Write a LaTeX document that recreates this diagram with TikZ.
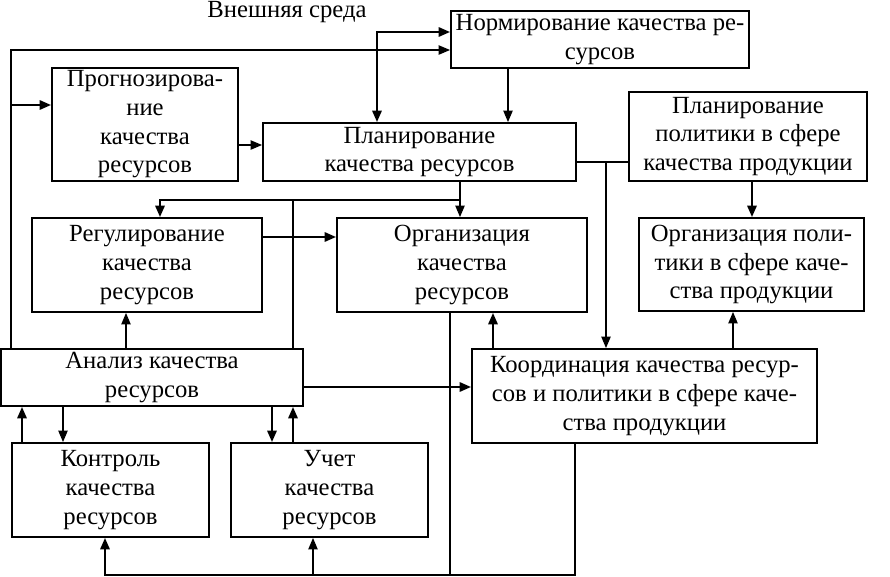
\documentclass[tikz,border=0pt]{standalone}
\usepackage{fontspec}
\setmainfont{Liberation Serif}
\usetikzlibrary{arrows.meta}
\begin{document}
\begin{tikzpicture}[x=0.75pt,y=-0.75pt,
  txt/.style={font=\fontsize{18.5}{21.5}\selectfont},
  box/.style={txt, draw, line width=1.5pt, inner sep=0pt, align=center},
  thinl/.style={line width=0.8pt},
  thickl/.style={line width=1.5pt},
  arr/.style={-{Triangle[length=8.5pt,width=7pt]}},
  arrb/.style={{Triangle[length=8.5pt,width=7pt]}-{Triangle[length=8.5pt,width=7pt]}}]
\useasboundingbox (0,0) rectangle (890,576);
% nodes
\node[txt, anchor=north, inner sep=0pt] (env) at (287,1) {Внешняя среда};
\node[box, minimum width=223.5pt, minimum height=42.75pt] (norm) at (600,39.5) {Нормирование качества ре-\\сурсов};
\node[box, minimum width=139.5pt, minimum height=84.75pt] (prog) at (145,124.5) {Прогнозирова-\\ние\\качества\\ресурсов};
\node[box, minimum width=234.75pt, minimum height=43.5pt] (plan) at (419.5,152) {Планирование\\качества ресурсов};
\node[box, minimum width=178.5pt, minimum height=66.75pt] (planpol) at (748,136.5) {Планирование\\политики в сфере\\качества продукции};
\node[box, minimum width=172.5pt, minimum height=70.5pt] (reg) at (147,265) {Регулирование\\качества\\ресурсов};
\node[box, minimum width=187.5pt, minimum height=70.5pt] (org) at (462,265) {Организация\\качества\\ресурсов};
\node[box, minimum width=168.75pt, minimum height=69.75pt] (orgpol) at (751.5,264.5) {Организация поли-\\тики в сфере каче-\\ства продукции};
\node[box, minimum width=226.5pt, minimum height=42.75pt] (anal) at (152,377.5) {Анализ качества\\ресурсов};
\node[box, minimum width=258.75pt, minimum height=70.5pt] (coord) at (644.5,396) {Координация качества ресур-\\сов и политики в сфере каче-\\ства продукции};
\node[box, minimum width=147.75pt, minimum height=70.5pt] (ctrl) at (110.5,490) {Контроль\\качества\\ресурсов};
\node[box, minimum width=147.75pt, minimum height=70.5pt] (uchet) at (329.5,490) {Учет\\качества\\ресурсов};
% junction coordinates
\coordinate (lt) at (11,50);
\coordinate (lp) at (11,105);
\coordinate (ext) at (377,32);
\coordinate (pj) at (606,162);
\coordinate (busL) at (160,200);
\coordinate (busM) at (293,200);
\coordinate (busR) at (460,200);
\coordinate (bk) at (105,575);
\coordinate (bu) at (313,575);
\coordinate (bo) at (450,575);
\coordinate (bc) at (575,575);
% connectors
\draw[thinl,arr] (anal.north -| lt) -- (lt) -- (norm.west |- lt);
\draw[thickl,arr] (lp) -- (prog.west |- lp);
\draw[thickl,arrb] (plan.north -| ext) |- (norm.west |- ext);
\draw[thinl,arr] (prog.east |- 0,145) -- (plan.west |- 0,145);
\draw[thinl,arr] (norm.south -| 508,0) -- (plan.north -| 508,0);
\draw[thinl] (plan.east |- pj) -- (planpol.west |- pj);
\draw[thinl,arr] (pj) -- (coord.north -| pj);
\draw[thickl,arr] (planpol.south -| 752,0) -- (orgpol.north -| 752,0);
\draw[thinl,arr] (plan.south -| busR) -- (org.north -| busR);
\draw[thickl,arr] (busR) -- (busL) -- (reg.north -| busL);
\draw[thickl] (anal.north -| busM) -- (busM);
\draw[thickl,arr] (reg.east |- 0,237) -- (org.west |- 0,237);
\draw[thinl,arr] (anal.north -| 126,0) -- (reg.south -| 126,0);
\draw[thickl,arr] (anal.east |- 0,387) -- (coord.west |- 0,387);
\draw[thickl,arr] (coord.north -| 493,0) -- (org.south -| 493,0);
\draw[thinl,arr] (coord.north -| 733,0) -- (orgpol.south -| 733,0);
\draw[thickl,arr] (ctrl.north -| 22,0) -- (anal.south -| 22,0);
\draw[thinl,arr] (anal.south -| 63,0) -- (ctrl.north -| 63,0);
\draw[thickl,arr] (anal.south -| 272,0) -- (uchet.north -| 272,0);
\draw[thickl,arr] (uchet.north -| 293,0) -- (anal.south -| 293,0);
\draw[thickl,arr] (coord.south -| bc) -- (bc) -- (bk) -- (ctrl.south -| bk);
\draw[thinl,arr] (bu) -- (uchet.south -| bu);
\draw[thickl] (org.south -| bo) -- (bo);
\end{tikzpicture}
\end{document}
